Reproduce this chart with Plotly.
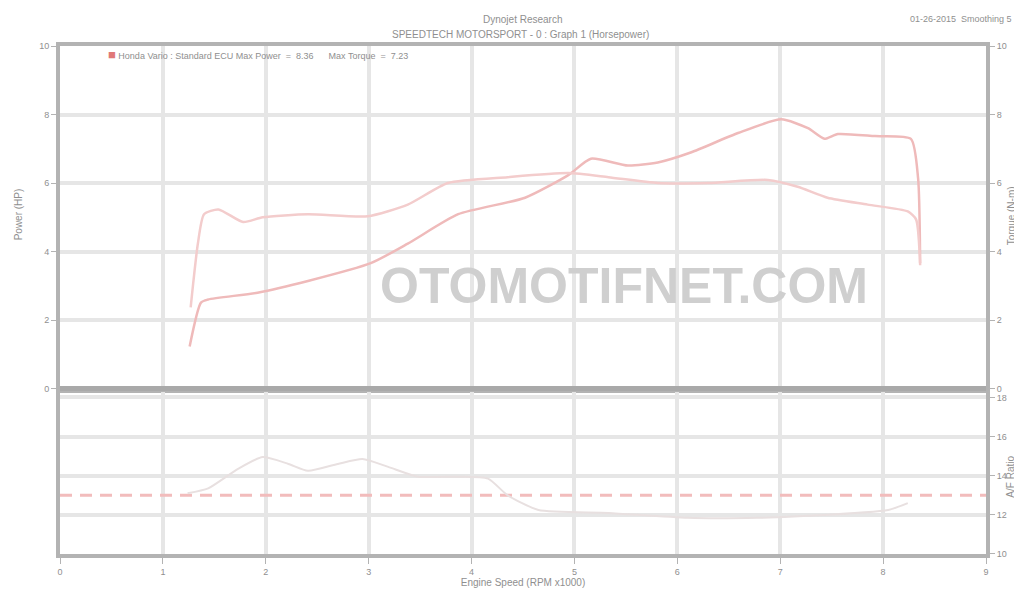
import plotly.graph_objects as go

# ---------------- data ----------------
rpm_power = [1.26, 1.37, 1.44, 1.92, 2.41, 3.02, 3.38, 3.87, 4.52, 4.94, 5.16, 5.52, 5.81, 6.13, 6.59, 7.01, 7.27, 7.43, 7.56, 7.92, 8.27, 8.34, 8.36]
power_hp = [1.23, 2.51, 2.60, 2.80, 3.14, 3.66, 4.23, 5.09, 5.57, 6.23, 6.71, 6.51, 6.60, 6.89, 7.46, 7.86, 7.60, 7.29, 7.43, 7.37, 7.29, 6.14, 3.66]

rpm_torque = [1.27, 1.34, 1.40, 1.54, 1.78, 1.97, 2.41, 2.99, 3.38, 3.77, 4.35, 4.94, 5.33, 5.81, 6.30, 6.88, 7.17, 7.46, 7.85, 8.24, 8.32, 8.36]
torque_nm = [2.37, 4.23, 5.09, 5.23, 4.86, 5.00, 5.09, 5.03, 5.37, 6.00, 6.17, 6.29, 6.17, 6.00, 6.00, 6.09, 5.89, 5.57, 5.37, 5.17, 4.94, 3.60]

rpm_afr = [1.24, 1.44, 1.73, 1.97, 2.22, 2.41, 2.70, 2.94, 3.19, 3.48, 3.87, 4.16, 4.35, 4.65, 5.33, 6.10, 6.78, 7.27, 8.05, 8.24]
afr = [13.1, 13.35, 14.35, 14.95, 14.6, 14.25, 14.6, 14.85, 14.45, 13.95, 13.95, 13.85, 13.0, 12.25, 12.1, 11.85, 11.85, 11.95, 12.25, 12.6]

target_x = [0, 9]
target_afr = [13.0, 13.0]

x_ticks = [0, 1, 2, 3, 4, 5, 6, 7, 8, 9]
power_ticks = [0, 2, 4, 6, 8, 10]
torque_ticks = [0, 2, 4, 6, 8, 10]
afr_ticks = [10, 12, 14, 16, 18]

# ---------------- figure ----------------
W, H = 1022, 590
ml, mr, mt, mb = 52, 44, 38, 33
plot_w = W - ml - mr
plot_h = H - mt - mb
up_bot = (557 - 388) / plot_h
lo_top = (557 - 392) / plot_h

GRID = "#e6e6e6"
FRAME = "#b3b3b3"
TXT = "#8f8f8f"
FONT = "Liberation Sans"

fig = go.Figure()

fig.add_trace(go.Scatter(x=rpm_torque, y=torque_nm, mode="lines", xaxis="x", yaxis="y2",
                         line=dict(color="#f3cccc", width=2.5, shape="spline", smoothing=0.6),
                         showlegend=False, hoverinfo="skip"))
fig.add_trace(go.Scatter(x=rpm_power, y=power_hp, mode="lines", xaxis="x", yaxis="y",
                         line=dict(color="#efbaba", width=2.5, shape="spline", smoothing=0.6),
                         showlegend=False, hoverinfo="skip"))
fig.add_trace(go.Scatter(x=target_x, y=target_afr, mode="lines", xaxis="x2", yaxis="y3",
                         line=dict(color="#f2bcbc", width=3, dash="12px,8px"),
                         showlegend=False, hoverinfo="skip"))
fig.add_trace(go.Scatter(x=rpm_afr, y=afr, mode="lines", xaxis="x2", yaxis="y3",
                         line=dict(color="#e8e0e0", width=2, shape="spline", smoothing=0.6),
                         showlegend=False, hoverinfo="skip"))

tickfont = dict(family=FONT, size=9, color=TXT)

fig.update_layout(
    width=W, height=H,
    margin=dict(l=ml, r=mr, t=mt, b=mb),
    paper_bgcolor="white", plot_bgcolor="white",
    font=dict(family=FONT, color=TXT),
    xaxis=dict(domain=[0, 1], anchor="y", range=[0, 9], tickvals=x_ticks, showticklabels=False,
               showgrid=True, gridcolor=GRID, gridwidth=4, zeroline=False,
               showline=True, linecolor=FRAME, linewidth=4, mirror=True, ticks=""),
    yaxis=dict(domain=[up_bot, 1], anchor="x", range=[0, 10], tickvals=power_ticks,
               ticktext=[str(v) for v in power_ticks], tickfont=tickfont,
               showgrid=True, gridcolor=GRID, gridwidth=4, zeroline=False,
               showline=True, linecolor=FRAME, linewidth=4, ticks="outside", ticklen=5,
               tickcolor=FRAME),
    yaxis2=dict(overlaying="y", side="right", anchor="x", range=[0, 10], tickvals=torque_ticks,
                ticktext=[str(v) for v in torque_ticks], tickfont=tickfont, showgrid=False,
                zeroline=False, showline=True, linecolor=FRAME, linewidth=4,
                ticks="outside", ticklen=5, tickcolor=FRAME),
    xaxis2=dict(domain=[0, 1], anchor="y3", range=[0, 9], tickvals=x_ticks,
                ticktext=[str(v) for v in x_ticks], tickfont=tickfont,
                showgrid=True, gridcolor=GRID, gridwidth=4, zeroline=False,
                showline=True, linecolor=FRAME, linewidth=4, mirror=True,
                ticks="outside", ticklen=6, tickcolor=FRAME,
                title=dict(text="Engine Speed (RPM x1000)", font=dict(family=FONT, size=10, color=TXT), standoff=2)),
    yaxis3=dict(domain=[0, lo_top], anchor="x2", side="right", range=[10, 18.25], tickvals=afr_ticks,
                ticktext=[str(v) for v in afr_ticks], tickfont=tickfont,
                showgrid=True, gridcolor=GRID, gridwidth=4, zeroline=False,
                showline=True, linecolor=FRAME, linewidth=4, mirror=True,
                ticks="outside", ticklen=5, tickcolor=FRAME),
)

# separator bar between the two panels
fig.add_shape(type="line", xref="paper", yref="paper", x0=0, x1=1, y0=up_bot, y1=up_bot,
              line=dict(color="#a9a9a9", width=5))

def px_x(px):
    return (px - ml) / plot_w

def px_y(py):
    return (H - mb - py) / plot_h

def note(text, px, py, size=10, angle=0, xanchor="center", color=TXT):
    fig.add_annotation(text=text, xref="paper", yref="paper", x=px_x(px), y=px_y(py),
                       textangle=angle, showarrow=False, xanchor=xanchor, yanchor="middle",
                       font=dict(family=FONT, size=size, color=color))

# axis titles
note("Power (HP)", 10, 210, angle=-90)
note("Torque (N-m)", 1003, 212, angle=-90)
note("A/F Ratio", 1003, 478, angle=-90)

# titles
note("Dynojet Research", 514, 11)
note("SPEEDTECH MOTORSPORT - 0 : Graph 1 (Horsepower)", 512, 26)
note("01-26-2015  Smoothing 5", 1006, 10, size=9, xanchor="right")

# legend text
note("<span style='color:#e07878;font-size:13px'>■</span> Honda Vario : Standard ECU Max Power  =  8.36      Max Torque  =  7.23",
     98, 47, size=9, xanchor="left")

# watermark
note("<b>OTOMOTIFNET.COM</b>", 616, 283, size=50, color="#cfcfcf")

fig.write_html("out.html")
